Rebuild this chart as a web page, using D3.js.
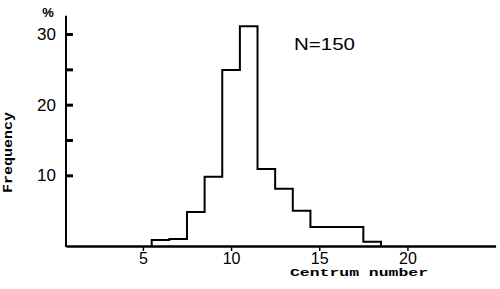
<!DOCTYPE html>
<html>
<head>
<meta charset="utf-8">
<script src="https://cdn.jsdelivr.net/npm/d3@7"></script>
<style>
  html, body { margin: 0; padding: 0; background: #fff; }
  svg { display: block; }
</style>
</head>
<body>
<svg id="chart" width="500" height="289"></svg>
<script>
// Data (percent of N = 150)
const centrum = [6, 7, 8, 9, 10, 11, 12, 13, 14, 15, 16, 17, 18];
const frequency = [0.85, 1.0, 4.8, 9.8, 24.9, 31.1, 10.9, 8.1, 5.0, 2.7, 2.7, 2.7, 0.6];
const xTickValues = [5, 10, 15, 20];
const yTickValues = [10, 15, 20, 25, 30];
const yTickLabels = [10, 20, 30];
const xDomain = [0.64, 25];
const yDomain = [0, 30];
const yAxisTop = 32.6;

const svg = d3.select("#chart");
const x = d3.scaleLinear().domain(xDomain).range([66, 495.6]);
const y = d3.scaleLinear().domain(yDomain).range([246, 34]);

const numFont = "'Liberation Sans', Arial, sans-serif";
const monoFont = "'Liberation Mono', 'DejaVu Sans Mono', monospace";

// Histogram step outline
const path = d3.path();
path.moveTo(x(centrum[0] - 0.5), y(0));
centrum.forEach((c, i) => {
  path.lineTo(x(c - 0.5), y(frequency[i]));
  path.lineTo(x(c + 0.5), y(frequency[i]));
});
path.lineTo(x(centrum[centrum.length - 1] + 0.5), y(0));
svg.append("path")
  .attr("d", path.toString())
  .attr("fill", "none")
  .attr("stroke", "#000")
  .attr("stroke-width", 2)
  .attr("stroke-linejoin", "miter");

// Y axis
const yAxis = d3.axisLeft(y)
  .tickValues(yTickValues)
  .tickSize(-7)
  .tickPadding(10)
  .tickFormat(d => yTickLabels.includes(d) ? d : "");
const gy = svg.append("g").attr("transform", `translate(${x(xDomain[0])},0)`).call(yAxis);
gy.select(".domain").remove();
gy.selectAll(".tick line").attr("stroke", "#000").attr("stroke-width", 3);
gy.selectAll(".tick text")
  .attr("fill", "#000")
  .style("font-family", numFont)
  .style("font-size", "17px");
svg.append("line")
  .attr("x1", x(xDomain[0])).attr("x2", x(xDomain[0]))
  .attr("y1", y(yAxisTop)).attr("y2", y(0) + 1)
  .attr("stroke", "#000").attr("stroke-width", 2);

// X axis
const xAxis = d3.axisBottom(x)
  .tickValues(xTickValues)
  .tickSize(5)
  .tickSizeOuter(0)
  .tickPadding(1.6);
const gx = svg.append("g").attr("transform", `translate(0,${y(0)})`).call(xAxis);
gx.select(".domain").attr("stroke", "#000").attr("stroke-width", 2.5);
gx.selectAll(".tick line").attr("stroke", "#000").attr("stroke-width", 1.5);
gx.selectAll(".tick text")
  .attr("fill", "#000")
  .style("font-family", numFont)
  .style("font-size", "16px");

// Unit label
svg.append("text")
  .attr("x", 48).attr("y", 17)
  .attr("text-anchor", "middle")
  .style("font-family", numFont)
  .style("font-size", "13px")
  .style("font-weight", "bold")
  .text("%");

// N label
svg.append("text")
  .attr("x", 294).attr("y", 50)
  .attr("textLength", 61)
  .attr("lengthAdjust", "spacingAndGlyphs")
  .style("font-family", numFont)
  .style("font-size", "17px")
  .text("N=150");

// Axis titles
svg.append("text")
  .attr("x", 290).attr("y", 275.5)
  .attr("textLength", 138)
  .attr("lengthAdjust", "spacingAndGlyphs")
  .style("font-family", monoFont)
  .style("font-weight", "bold")
  .style("font-size", "11px")
  .text("Centrum number");

svg.append("text")
  .attr("transform", "translate(12,193) rotate(-90)")
  .attr("x", 0).attr("y", 0)
  .attr("textLength", 81)
  .attr("lengthAdjust", "spacingAndGlyphs")
  .style("font-family", monoFont)
  .style("font-weight", "bold")
  .style("font-size", "12px")
  .text("Frequency");
</script>
</body>
</html>
